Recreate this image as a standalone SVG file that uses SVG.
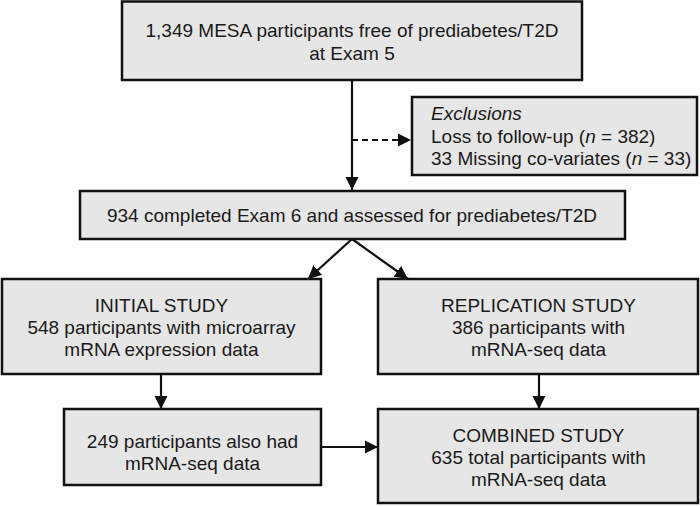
<svg xmlns="http://www.w3.org/2000/svg" width="700" height="506" viewBox="0 0 700 506">
<style>
.box{fill:#e6e6e6;stroke:#111;stroke-width:2.5}
.t{font-family:"Liberation Sans",Arial,sans-serif;font-size:19px;fill:#1a1a1a;text-anchor:middle}
.l{text-anchor:start}
.c{stroke:#111;stroke-width:2.2;fill:none}
</style>
<defs>
<marker id="ah" viewBox="0 0 10 10" refX="10" refY="5" markerWidth="6" markerHeight="6" markerUnits="strokeWidth" orient="auto">
<path d="M0,0 L10,5 L0,10 z" fill="#111"/>
</marker>
</defs>
<rect width="700" height="506" fill="#fff"/>
<g id="connectors">
<line class="c" x1="352" y1="80" x2="352" y2="190" marker-end="url(#ah)"/>
<line class="c" x1="352" y1="140" x2="411" y2="140" stroke-dasharray="6,4" marker-end="url(#ah)"/>
<line class="c" x1="352" y1="239" x2="308" y2="279" marker-end="url(#ah)"/>
<line class="c" x1="352" y1="239" x2="408" y2="279" marker-end="url(#ah)"/>
<line class="c" x1="161" y1="374" x2="161" y2="409" marker-end="url(#ah)"/>
<line class="c" x1="539" y1="374" x2="539" y2="409" marker-end="url(#ah)"/>
<line class="c" x1="321" y1="447" x2="378" y2="447" marker-end="url(#ah)"/>
</g>
<g id="n_top">
<rect class="box" x="122" y="1.5" width="460" height="78.5"/>
<text class="t" x="352" y="37">1,349 MESA participants free of prediabetes/T2D</text>
<text class="t" x="352" y="60">at Exam 5</text>
</g>
<g id="n_excl">
<rect class="box" x="412" y="97" width="285" height="78"/>
<text class="t l" x="431" y="120"><tspan font-style="italic">Exclusions</tspan></text>
<text class="t l" x="431" y="143">Loss to follow-up (<tspan font-style="italic">n</tspan> = 382)</text>
<text class="t l" x="431" y="165">33 Missing co-variates (<tspan font-style="italic">n</tspan> = 33)</text>
</g>
<g id="n_934">
<rect class="box" x="80" y="191" width="545" height="48"/>
<text class="t" x="352" y="222">934 completed Exam 6 and assessed for prediabetes/T2D</text>
</g>
<g id="n_initial">
<rect class="box" x="2" y="279" width="319" height="95"/>
<text class="t" x="161.5" y="312">INITIAL STUDY</text>
<text class="t" x="161.5" y="334">548 participants with microarray</text>
<text class="t" x="161.5" y="356">mRNA expression data</text>
</g>
<g id="n_replication">
<rect class="box" x="378" y="279" width="320" height="95"/>
<text class="t" x="538.5" y="312">REPLICATION STUDY</text>
<text class="t" x="538.5" y="334">386 participants with</text>
<text class="t" x="538.5" y="356">mRNA-seq data</text>
</g>
<g id="n_249">
<rect class="box" x="64" y="409" width="257" height="76"/>
<text class="t" x="192.5" y="448">249 participants also had</text>
<text class="t" x="192.5" y="470">mRNA-seq data</text>
</g>
<g id="n_combined">
<rect class="box" x="378" y="409" width="320" height="94"/>
<text class="t" x="538.5" y="442">COMBINED STUDY</text>
<text class="t" x="538.5" y="464">635 total participants with</text>
<text class="t" x="538.5" y="486">mRNA-seq data</text>
</g>
</svg>
